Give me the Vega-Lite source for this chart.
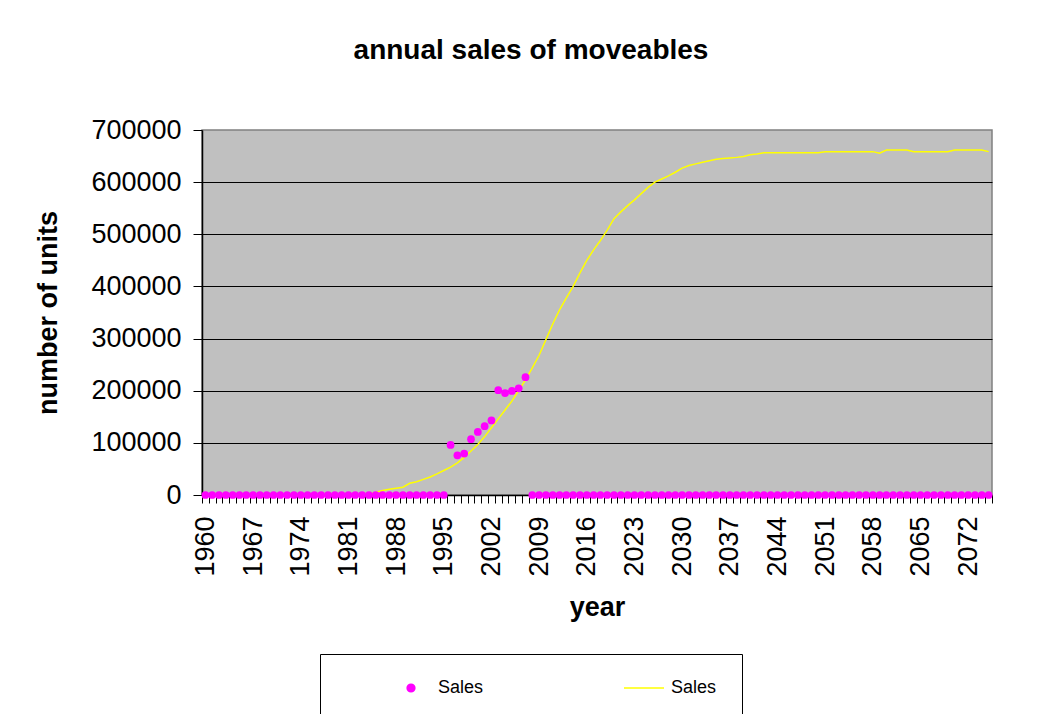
{
  "$schema": "https://vega.github.io/schema/vega-lite/v6.json",
  "width": 790,
  "height": 365,
  "autosize": {"type": "none"},
  "padding": {"left": 202, "top": 130, "right": 47, "bottom": 219},
  "background": "white",
  "config": {
    "font": "Liberation Sans",
    "view": {"fill": "#C0C0C0", "stroke": "#808080", "strokeWidth": 1.5},
    "legend": {
      "title": null,
      "orient": "none",
      "legendX": 118,
      "legendY": 524,
      "direction": "horizontal",
      "columns": 2,
      "padding": 25,
      "strokeColor": "black",
      "fillColor": "white",
      "cornerRadius": 0,
      "symbolOffset": 57,
      "labelOffset": 18,
      "columnPadding": 94,
      "labelFont": "Liberation Sans",
      "labelFontSize": 18,
      "labelColor": "black"
    }
  },
  "title": {
    "text": "annual sales of moveables",
    "font": "Liberation Sans",
    "fontSize": 28,
    "fontWeight": "bold",
    "color": "black",
    "anchor": "middle",
    "frame": "group",
    "dx": -66,
    "offset": 51
  },
  "data": {
    "values": [
      {"year": 1960, "sales": 0, "trend": 0},
      {"year": 1961, "sales": 0, "trend": 0},
      {"year": 1962, "sales": 0, "trend": 0},
      {"year": 1963, "sales": 0, "trend": 0},
      {"year": 1964, "sales": 0, "trend": 0},
      {"year": 1965, "sales": 0, "trend": 0},
      {"year": 1966, "sales": 0, "trend": 0},
      {"year": 1967, "sales": 0, "trend": 0},
      {"year": 1968, "sales": 0, "trend": 0},
      {"year": 1969, "sales": 0, "trend": 0},
      {"year": 1970, "sales": 0, "trend": 0},
      {"year": 1971, "sales": 0, "trend": 0},
      {"year": 1972, "sales": 0, "trend": 0},
      {"year": 1973, "sales": 0, "trend": 0},
      {"year": 1974, "sales": 0, "trend": 0},
      {"year": 1975, "sales": 0, "trend": 0},
      {"year": 1976, "sales": 0, "trend": 0},
      {"year": 1977, "sales": 0, "trend": 0},
      {"year": 1978, "sales": 0, "trend": 0},
      {"year": 1979, "sales": 0, "trend": 0},
      {"year": 1980, "sales": 0, "trend": 0},
      {"year": 1981, "sales": 0, "trend": 0},
      {"year": 1982, "sales": 0, "trend": 0},
      {"year": 1983, "sales": 0, "trend": 0},
      {"year": 1984, "sales": 0, "trend": 1500},
      {"year": 1985, "sales": 0, "trend": 5000},
      {"year": 1986, "sales": 0, "trend": 8500},
      {"year": 1987, "sales": 0, "trend": 11000},
      {"year": 1988, "sales": 0, "trend": 13000},
      {"year": 1989, "sales": 0, "trend": 15000},
      {"year": 1990, "sales": 0, "trend": 22500},
      {"year": 1991, "sales": 0, "trend": 25500},
      {"year": 1992, "sales": 0, "trend": 30000},
      {"year": 1993, "sales": 0, "trend": 34500},
      {"year": 1994, "sales": 0, "trend": 40500},
      {"year": 1995, "sales": 0, "trend": 47000},
      {"year": 1996, "sales": 96000, "trend": 53500},
      {"year": 1997, "sales": 76000, "trend": 61500},
      {"year": 1998, "sales": 79500, "trend": 72000},
      {"year": 1999, "sales": 107000, "trend": 84500},
      {"year": 2000, "sales": 121000, "trend": 97000},
      {"year": 2001, "sales": 132000, "trend": 112000},
      {"year": 2002, "sales": 143000, "trend": 129000},
      {"year": 2003, "sales": 201000, "trend": 146000},
      {"year": 2004, "sales": 195500, "trend": 163000},
      {"year": 2005, "sales": 199500, "trend": 180000},
      {"year": 2006, "sales": 204500, "trend": 200000},
      {"year": 2007, "sales": 226000, "trend": 221000},
      {"year": 2008, "sales": 0, "trend": 244000},
      {"year": 2009, "sales": 0, "trend": 268000},
      {"year": 2010, "sales": 0, "trend": 298000},
      {"year": 2011, "sales": 0, "trend": 328000},
      {"year": 2012, "sales": 0, "trend": 355000},
      {"year": 2013, "sales": 0, "trend": 378000},
      {"year": 2014, "sales": 0, "trend": 400000},
      {"year": 2015, "sales": 0, "trend": 426000},
      {"year": 2016, "sales": 0, "trend": 450000},
      {"year": 2017, "sales": 0, "trend": 470000},
      {"year": 2018, "sales": 0, "trend": 488000},
      {"year": 2019, "sales": 0, "trend": 508000},
      {"year": 2020, "sales": 0, "trend": 530000},
      {"year": 2021, "sales": 0, "trend": 543000},
      {"year": 2022, "sales": 0, "trend": 555000},
      {"year": 2023, "sales": 0, "trend": 566000},
      {"year": 2024, "sales": 0, "trend": 578000},
      {"year": 2025, "sales": 0, "trend": 590000},
      {"year": 2026, "sales": 0, "trend": 600000},
      {"year": 2027, "sales": 0, "trend": 606000},
      {"year": 2028, "sales": 0, "trend": 612000},
      {"year": 2029, "sales": 0, "trend": 619000},
      {"year": 2030, "sales": 0, "trend": 627000},
      {"year": 2031, "sales": 0, "trend": 632000},
      {"year": 2032, "sales": 0, "trend": 635000},
      {"year": 2033, "sales": 0, "trend": 638000},
      {"year": 2034, "sales": 0, "trend": 641000},
      {"year": 2035, "sales": 0, "trend": 644000},
      {"year": 2036, "sales": 0, "trend": 645500},
      {"year": 2037, "sales": 0, "trend": 646500},
      {"year": 2038, "sales": 0, "trend": 647500},
      {"year": 2039, "sales": 0, "trend": 649000},
      {"year": 2040, "sales": 0, "trend": 652500},
      {"year": 2041, "sales": 0, "trend": 654000},
      {"year": 2042, "sales": 0, "trend": 656500},
      {"year": 2043, "sales": 0, "trend": 656500},
      {"year": 2044, "sales": 0, "trend": 656500},
      {"year": 2045, "sales": 0, "trend": 656500},
      {"year": 2046, "sales": 0, "trend": 656500},
      {"year": 2047, "sales": 0, "trend": 656500},
      {"year": 2048, "sales": 0, "trend": 656500},
      {"year": 2049, "sales": 0, "trend": 656500},
      {"year": 2050, "sales": 0, "trend": 656500},
      {"year": 2051, "sales": 0, "trend": 658500},
      {"year": 2052, "sales": 0, "trend": 658500},
      {"year": 2053, "sales": 0, "trend": 658500},
      {"year": 2054, "sales": 0, "trend": 658500},
      {"year": 2055, "sales": 0, "trend": 658500},
      {"year": 2056, "sales": 0, "trend": 658500},
      {"year": 2057, "sales": 0, "trend": 658500},
      {"year": 2058, "sales": 0, "trend": 658500},
      {"year": 2059, "sales": 0, "trend": 655500},
      {"year": 2060, "sales": 0, "trend": 661500},
      {"year": 2061, "sales": 0, "trend": 661500},
      {"year": 2062, "sales": 0, "trend": 661500},
      {"year": 2063, "sales": 0, "trend": 661500},
      {"year": 2064, "sales": 0, "trend": 658500},
      {"year": 2065, "sales": 0, "trend": 658500},
      {"year": 2066, "sales": 0, "trend": 658500},
      {"year": 2067, "sales": 0, "trend": 658500},
      {"year": 2068, "sales": 0, "trend": 658500},
      {"year": 2069, "sales": 0, "trend": 658500},
      {"year": 2070, "sales": 0, "trend": 661500},
      {"year": 2071, "sales": 0, "trend": 661500},
      {"year": 2072, "sales": 0, "trend": 661500},
      {"year": 2073, "sales": 0, "trend": 661500},
      {"year": 2074, "sales": 0, "trend": 661500},
      {"year": 2075, "sales": 0, "trend": 658500}
    ]
  },
  "encoding": {
    "x": {
      "field": "year",
      "type": "quantitative",
      "scale": {"domain": [1959.5, 2075.5], "nice": false, "zero": false},
      "axis": {
        "title": "year",
        "titleFont": "Liberation Sans",
        "titleFontSize": 27,
        "titleFontWeight": "bold",
        "titleColor": "black",
        "titleBaseline": "alphabetic",
        "titleY": 120,
        "values": [1959.5,1960.5,1961.5,1962.5,1963.5,1964.5,1965.5,1966.5,1967.5,1968.5,1969.5,1970.5,1971.5,1972.5,1973.5,1974.5,1975.5,1976.5,1977.5,1978.5,1979.5,1980.5,1981.5,1982.5,1983.5,1984.5,1985.5,1986.5,1987.5,1988.5,1989.5,1990.5,1991.5,1992.5,1993.5,1994.5,1995.5,1996.5,1997.5,1998.5,1999.5,2000.5,2001.5,2002.5,2003.5,2004.5,2005.5,2006.5,2007.5,2008.5,2009.5,2010.5,2011.5,2012.5,2013.5,2014.5,2015.5,2016.5,2017.5,2018.5,2019.5,2020.5,2021.5,2022.5,2023.5,2024.5,2025.5,2026.5,2027.5,2028.5,2029.5,2030.5,2031.5,2032.5,2033.5,2034.5,2035.5,2036.5,2037.5,2038.5,2039.5,2040.5,2041.5,2042.5,2043.5,2044.5,2045.5,2046.5,2047.5,2048.5,2049.5,2050.5,2051.5,2052.5,2053.5,2054.5,2055.5,2056.5,2057.5,2058.5,2059.5,2060.5,2061.5,2062.5,2063.5,2064.5,2065.5,2066.5,2067.5,2068.5,2069.5,2070.5,2071.5,2072.5,2073.5,2074.5,2075.5],
        "labelExpr": "(datum.value + 0.5 - 1960) % 7 == 0 ? '' + (datum.value + 0.5) : ''",
        "labelAngle": 270,
        "labelFont": "Liberation Sans",
        "labelFontSize": 27,
        "labelColor": "black",
        "labelOffset": 3.4,
        "labelPadding": 13,
        "labelOverlap": false,
        "labelBound": false,
        "labelFlush": false,
        "tickSize": 8,
        "tickColor": "black",
        "domainColor": "black",
        "domainWidth": 1.5,
        "grid": false
      }
    }
  },
  "layer": [
    {
      "mark": {"type": "line", "strokeWidth": 1.5, "interpolate": "linear"},
      "encoding": {
        "y": {
          "field": "trend",
          "type": "quantitative",
          "scale": {"domain": [0, 700000], "nice": false},
          "axis": {
            "title": "number of units",
            "titleFont": "Liberation Sans",
            "titleFontSize": 27,
            "titleFontWeight": "bold",
            "titleColor": "black",
            "titleAngle": 270,
            "titleAlign": "center",
            "titleBaseline": "middle",
            "titleX": -154,
            "titleY": 182.5,
            "values": [0, 100000, 200000, 300000, 400000, 500000, 600000, 700000],
            "format": "d",
            "labelFont": "Liberation Sans",
            "labelFontSize": 27,
            "labelColor": "black",
            "labelPadding": 12,
            "tickSize": 9,
            "tickColor": "black",
            "domainColor": "black",
            "domainWidth": 1.5,
            "grid": true,
            "gridColor": {"condition": {"test": "datum.value == 0 || datum.value == 700000", "value": "transparent"}, "value": "black"},
            "gridWidth": 1
          }
        },
        "color": {
          "datum": "line",
          "legend": {
            "labelExpr": "'Sales'",
            "encode": {
              "symbols": {
                "update": {
                  "shape": {"signal": "datum.value === 'line' ? 'stroke' : 'circle'"},
                  "size": {"signal": "datum.value === 'line' ? 1600 : 60"},
                  "fill": {"signal": "datum.value === 'line' ? 'transparent' : '#FF00FF'"},
                  "stroke": {"signal": "datum.value === 'line' ? '#FFFF00' : 'transparent'"},
                  "strokeWidth": {"value": 1.5},
                  "opacity": {"value": 1}
                }
              }
            }
          }
        }
      }
    },
    {
      "mark": {"type": "point", "filled": true, "opacity": 1, "size": 60},
      "encoding": {
        "y": {"field": "sales", "type": "quantitative"},
        "color": {
          "datum": "pts",
          "scale": {"domain": ["pts", "line"], "range": ["#FF00FF", "#FFFF00"]},
          "legend": {
            "labelExpr": "'Sales'",
            "encode": {
              "symbols": {
                "update": {
                  "shape": {"signal": "datum.value === 'line' ? 'stroke' : 'circle'"},
                  "size": {"signal": "datum.value === 'line' ? 1600 : 60"},
                  "fill": {"signal": "datum.value === 'line' ? 'transparent' : '#FF00FF'"},
                  "stroke": {"signal": "datum.value === 'line' ? '#FFFF00' : 'transparent'"},
                  "strokeWidth": {"value": 1.5},
                  "opacity": {"value": 1}
                }
              }
            }
          }
        }
      }
    }
  ]
}
